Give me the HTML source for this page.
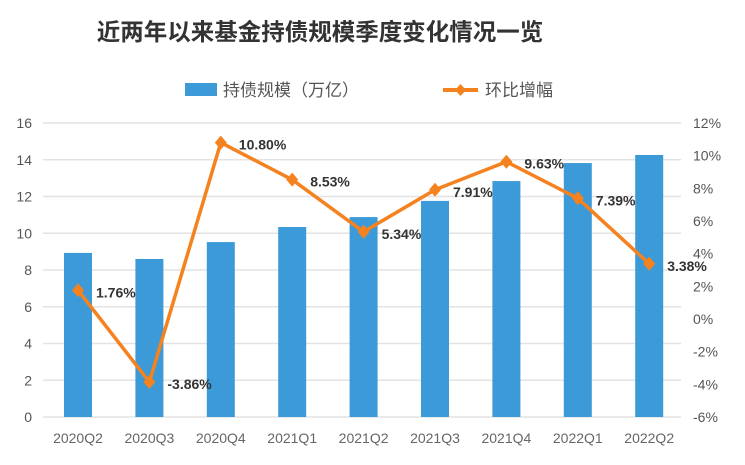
<!DOCTYPE html>
<html><head><meta charset="utf-8"><style>
body{margin:0;background:#fff;width:745px;height:460px;overflow:hidden}
svg{font-family:"Liberation Sans","Noto Sans CJK SC",sans-serif}
</style></head><body>
<svg width="745" height="460">
<text x="320" y="40" text-anchor="middle" font-size="23.5" font-weight="bold" fill="#333">近两年以来基金持债规模季度变化情况一览</text>
<g>
<rect x="185" y="83" width="32" height="13" fill="#3d9ad8"/>
<text x="223" y="96" font-size="17" fill="#555">持债规模（万亿）</text>
<line x1="443" y1="90" x2="478" y2="90" stroke="#f5821f" stroke-width="4"/>
<path d="M460.5 84 L466 90 L460.5 96 L455 90Z" fill="#f5821f"/>
<text x="485" y="96" font-size="17" fill="#555">环比增幅</text>
</g>
<g id="grid"></g><g id="bars"></g><g id="line"></g><g id="labels"></g>
</svg>
<script>
const categories=["2020Q2","2020Q3","2020Q4","2021Q1","2021Q2","2021Q3","2021Q4","2022Q1","2022Q2"];
const scale=[8.93,8.6,9.52,10.34,10.88,11.76,12.84,13.82,14.26];
const growth=[1.76,-3.86,10.80,8.53,5.34,7.91,9.63,7.39,3.38];
const leftTicks=[0,2,4,6,8,10,12,14,16];
const rightTicks=[-6,-4,-2,0,2,4,6,8,10,12];
const NS="http://www.w3.org/2000/svg";
const yL=v=>417-v*(294/16);
const yR=v=>417-(v+6)*(294/18);
const xC=i=>78+i*71.4;
function mk(t,a,p){const e=document.createElementNS(NS,t);for(const k in a)e.setAttribute(k,a[k]);document.getElementById(p).appendChild(e);return e;}
leftTicks.forEach(v=>{
 const l=mk("line",{x1:43,x2:681,y1:yL(v),y2:yL(v),stroke:"#e3e3e3","stroke-width":1.5},"grid");
 
 
 const t=mk("text",{x:32,y:yL(v)+5,"text-anchor":"end","font-size":14,fill:"#555"},"grid");t.textContent=v;
 
 
});
rightTicks.forEach(v=>{
 const t=mk("text",{x:693,y:yR(v)+5,"font-size":14,fill:"#555"},"grid");t.textContent=v+"%";
 
 
});
categories.forEach((c,i)=>{
 const b=mk("rect",{x:xC(i)-14,y:yL(scale[i]),width:28,height:417-yL(scale[i]),fill:"#3d9ad8"},"bars");
 
 
 const t=mk("text",{x:xC(i),y:443,"text-anchor":"middle","font-size":14,fill:"#666"},"labels");t.textContent=c;
 
 
});
const pl=mk("polyline",{points:growth.map((v,i)=>xC(i)+","+yR(v)).join(" "),fill:"none",stroke:"#f5821f","stroke-width":3.5,"stroke-linejoin":"round"},"line");


growth.forEach((v,i)=>{
 const x=xC(i),y=yR(v);
 const p=mk("path",{d:`M${x} ${y-7} L${x+6} ${y} L${x} ${y+7} L${x-6} ${y}Z`,fill:"#f5821f"},"line");
 
 
 const t=mk("text",{x:x+18,y:y+7,"font-size":14,"font-weight":"bold",fill:"#333"},"line");t.textContent=v.toFixed(2)+"%";
 
 
});
</script>
</body></html>
